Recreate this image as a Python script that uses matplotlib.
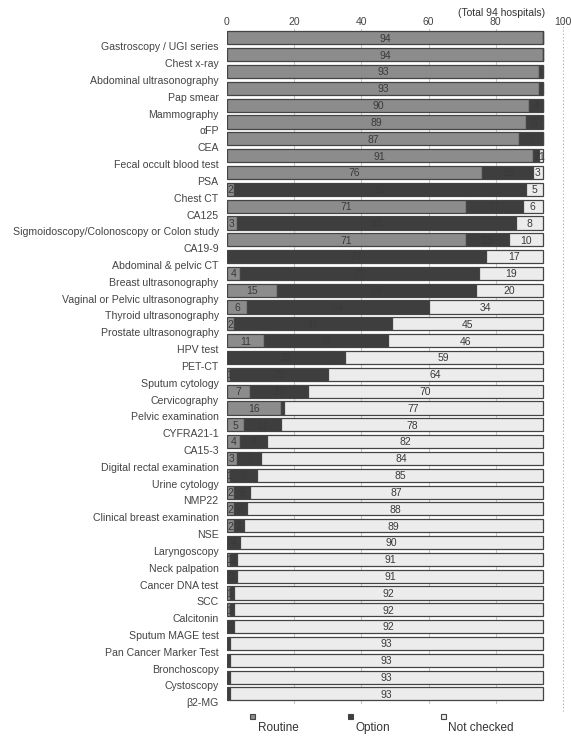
import matplotlib
matplotlib.use("Agg")
import matplotlib.pyplot as plt
from matplotlib.patches import Rectangle

plt.rcParams["font.family"] = ["Liberation Sans", "DejaVu Sans"]

tests = ["Gastroscopy / UGI series", "Chest x-ray", "Abdominal ultrasonography", "Pap smear",
         "Mammography", "\u03b1FP", "CEA", "Fecal occult blood test", "PSA", "Chest CT", "CA125",
         "Sigmoidoscopy/Colonoscopy or Colon study", "CA19-9", "Abdominal & pelvic CT",
         "Breast ultrasonography", "Vaginal or Pelvic ultrasonography", "Thyroid ultrasonography",
         "Prostate ultrasonography", "HPV test", "PET-CT", "Sputum cytology", "Cervicography",
         "Pelvic examination", "CYFRA21-1", "CA15-3", "Digital rectal examination",
         "Urine cytology", "NMP22", "Clinical breast examination", "NSE", "Laryngoscopy",
         "Neck palpation", "Cancer DNA test", "SCC", "Calcitonin", "Sputum MAGE test",
         "Pan Cancer Marker Test", "Bronchoscopy", "Cystoscopy", "\u03b22-MG"]
routine = [94, 94, 93, 93, 90, 89, 87, 91, 76, 2, 71, 3, 71, 0, 4, 15, 6, 2, 11, 0,
           1, 7, 16, 5, 4, 3, 1, 2, 2, 2, 0, 1, 0, 1, 1, 0, 0, 0, 0, 0]
option = [0, 0, 1, 1, 4, 5, 7, 2, 15, 87, 17, 83, 13, 77, 71, 59, 54, 47, 37, 35,
          29, 17, 1, 11, 8, 7, 8, 5, 4, 3, 4, 2, 3, 1, 1, 2, 1, 1, 1, 1]
not_checked = [0, 0, 0, 0, 0, 0, 0, 1, 3, 5, 6, 8, 10, 17, 19, 20, 34, 45, 46, 59,
               64, 70, 77, 78, 82, 84, 85, 87, 88, 89, 90, 91, 91, 92, 92, 92, 93, 93, 93, 93]
series = [("Routine", routine, "#8c8c8c"),
          ("Option", option, "#3e3e3e"),
          ("Not checked", not_checked, "#ececec")]

fig = plt.figure(figsize=(5.71, 7.43), dpi=100)
ax = fig.add_axes([0.3975, 0.0525, 0.5885, 0.9089])

ypos = list(range(len(tests)))
left = [0] * len(tests)
for name, vals, col in series:
    ax.barh(ypos, vals, left=left, height=0.78, color=col, edgecolor="#444444",
            linewidth=0.9, zorder=3)
    for y, v, l in zip(ypos, vals, left):
        # single-hospital option slivers carry no readable label in the original
        if v > 1 or (v == 1 and name != "Option"):
            ax.text(l + v / 2, y + 0.05, str(v), ha="center", va="center",
                    fontsize=7.5, color="#3a3a3a", zorder=4)
    left = [a + b for a, b in zip(left, vals)]

ax.set_xlim(0, 100)
ax.set_ylim(39.6, -0.55)
ax.set_yticks([y + 0.5 for y in ypos])
ax.set_yticklabels(tests, fontsize=7.6, color="#3a3a3a")
ax.set_xticks([0, 20, 40, 60, 80, 100])
ax.xaxis.tick_top()
ax.tick_params(axis="both", length=0, colors="#444444")
ax.tick_params(axis="x", pad=1, labelsize=7.5)
ax.tick_params(axis="y", pad=6)
for s in ax.spines.values():
    s.set_visible(False)
for g in [20, 40, 60, 80]:
    ax.axvline(g, color="#c8c8c8", lw=0.8, zorder=1)
ax.axvline(100, color="#aaaaaa", lw=0.8, ls=(0, (1, 2)), zorder=1, clip_on=False,
           ymin=-0.01, ymax=1.02)

fig.text(0.879, 0.983, "(Total 94 hospitals)", ha="center", va="center",
         fontsize=7.5, color="#333333")

# legend: small square above its label
for (name, vals, col), sx, tx in zip(series, [250, 348, 441], [258, 356, 448]):
    fig.patches.append(Rectangle((sx / 571, 1 - 719 / 743), 5 / 571, 5 / 743,
                                 transform=fig.transFigure, facecolor=col,
                                 edgecolor="#444444", linewidth=0.8))
    fig.text(tx / 571, 1 - 728 / 743, name, ha="left", va="center",
             fontsize=8.5, color="#333333")

fig.savefig("out.png", dpi=100, facecolor="white")
